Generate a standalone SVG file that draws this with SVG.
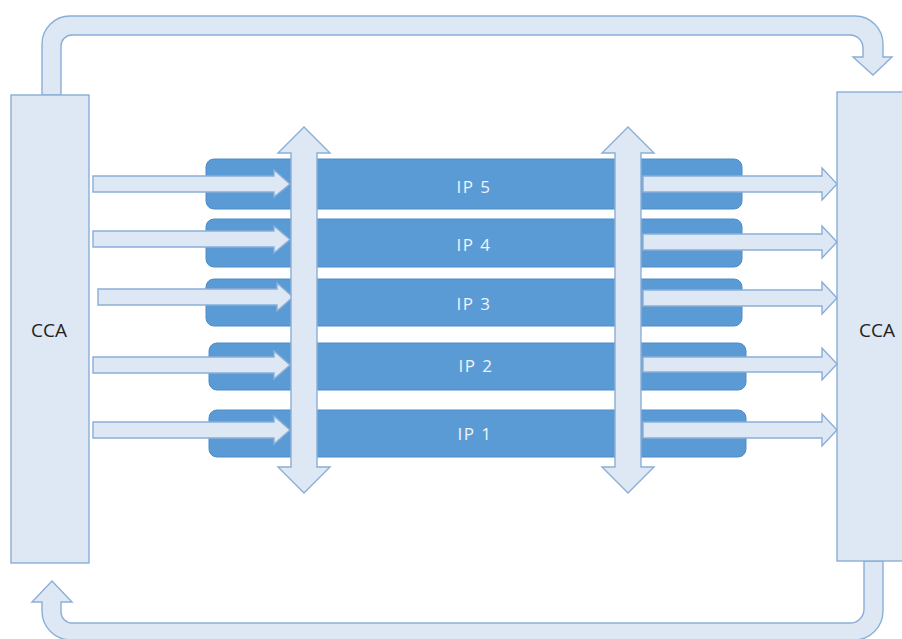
<svg xmlns="http://www.w3.org/2000/svg" width="902" height="639" viewBox="0 0 902 639">
<style>
.lt{fill:#dde8f4;stroke:#8aaed6;stroke-width:1.4;stroke-linejoin:miter}
.bar{fill:#5b9bd5;stroke:#4e8cc7;stroke-width:1}
.ip{font-family:"Open Sans","Liberation Sans",sans-serif;font-size:17px;fill:#eef4fb;text-anchor:middle;letter-spacing:1.5px}
.cca{font-family:"Open Sans","Liberation Sans",sans-serif;font-size:19px;fill:#222;text-anchor:middle}
</style>
<rect width="902" height="639" fill="#fff"/>
<g id="loops">
<path class="lt" d="M 42 95 L 42 44 A 28 28 0 0 1 70 16 L 855 16 A 28 28 0 0 1 883 44 L 883 57 L 892 57 L 873 75 L 853 57 L 863 57 L 863 48 A 13 13 0 0 0 850 35 L 72 35 A 11 11 0 0 0 61 46 L 61 95 Z"/>
<path class="lt" d="M 883 561 L 883 611 A 29 29 0 0 1 854 640 L 71 640 A 29 29 0 0 1 42 611 L 42 602 L 32 602 L 52 581 L 72 602 L 61 602 L 61 612 A 11 11 0 0 0 72 623 L 850 623 A 14 14 0 0 0 864 609 L 864 561 Z"/>
</g>
<g id="cca-left">
<rect class="lt" x="11" y="95" width="78" height="468"/>
<text class="cca" x="49" y="337">CCA</text>
</g>
<g id="cca-right">
<rect class="lt" x="837" y="92" width="70" height="469"/>
<text class="cca" x="877" y="337">CCA</text>
</g>
<g id="ip5"><rect class="bar" x="206" y="159" width="536" height="50" rx="8"/><text class="ip" x="474" y="193">IP 5</text></g>
<g id="ip4"><rect class="bar" x="206" y="219" width="536" height="48" rx="8"/><text class="ip" x="474" y="251">IP 4</text></g>
<g id="ip3"><rect class="bar" x="206" y="279" width="536" height="47" rx="8"/><text class="ip" x="474" y="310">IP 3</text></g>
<g id="ip2"><rect class="bar" x="209" y="343" width="537" height="47" rx="8"/><text class="ip" x="476" y="372">IP 2</text></g>
<g id="ip1"><rect class="bar" x="209" y="410" width="537" height="47" rx="8"/><text class="ip" x="475" y="440">IP 1</text></g>
<g id="connectors">
<path class="lt" d="M 93 176 H 274 V 170 L 290 184 L 274 197 V 192 H 93 Z"/>
<path class="lt" d="M 93 231 H 274 V 226 L 290 239.5 L 274 253 V 247 H 93 Z"/>
<path class="lt" d="M 98 289 H 277 V 283 L 293 297 L 277 311 V 305 H 98 Z"/>
<path class="lt" d="M 93 357 H 274 V 351 L 290 365 L 274 379 V 373 H 93 Z"/>
<path class="lt" d="M 93 422 H 274 V 416 L 290 430 L 274 444 V 438 H 93 Z"/>
<path class="lt" d="M 304 127 L 330 153 L 317 153 L 317 467 L 330 467 L 304 493 L 278 467 L 291 467 L 291 153 L 278 153 Z"/>
<path class="lt" d="M 628 127 L 654 153 L 641 153 L 641 467 L 654 467 L 628 493 L 602 467 L 615 467 L 615 153 L 602 153 Z"/>
<path class="lt" d="M 643 176 H 822 V 168 L 837 184 L 822 200 V 192 H 643 Z"/>
<path class="lt" d="M 643 234 H 822 V 226 L 837 242 L 822 258 V 250 H 643 Z"/>
<path class="lt" d="M 643 290 H 822 V 282 L 837 298 L 822 314 V 306 H 643 Z"/>
<path class="lt" d="M 643 357 H 822 V 348 L 837 364 L 822 380 V 372 H 643 Z"/>
<path class="lt" d="M 643 422 H 822 V 414 L 837 430 L 822 446 V 438 H 643 Z"/>
</g>
</svg>
